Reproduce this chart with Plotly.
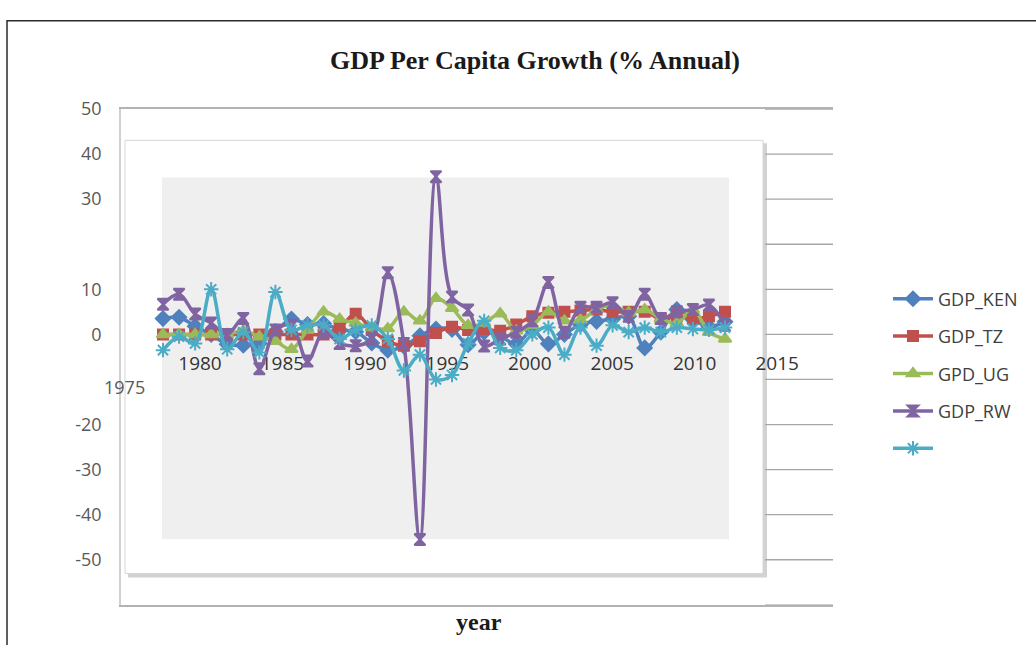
import plotly.graph_objects as go

# ---------------------------------------------------------------- data
years = list(range(1978, 2014))

gdp_ken = [3.5, 3.8, 1.8, 0.0, -2.2, -2.4, -2.0, 0.6, 3.4, 2.2, 2.4, 1.0,
           0.6, -1.9, -3.5, -2.6, -0.3, 1.2, 1.1, -2.3, 0.5, -0.4, -2.1, 0.9,
           -2.1, 0.0, 2.2, 2.9, 3.4, 4.0, -3.0, 0.5, 5.5, 3.3, 1.7, 2.8]

gdp_tz = [0.0, 0.0, 0.0, 0.0, 0.0, 0.0, 0.0, 0.0, 0.0, 0.0, 0.0, 1.5,
          4.6, 1.0, -1.5, -2.5, -1.5, 0.3, 1.7, 1.0, 1.2, 0.8, 2.2, 4.0,
          4.8, 5.0, 5.3, 5.5, 5.0, 5.0, 5.0, 3.5, 4.0, 3.5, 4.0, 5.0]

gdp_ug = [0.0, 0.0, 0.0, 0.0, 0.0, 0.8, -0.5, -1.5, -3.3, 1.0, 5.0, 3.4,
          2.5, 1.5, 1.3, 5.0, 3.0, 8.0, 5.8, 2.0, 2.5, 4.6, 0.8, 2.0,
          5.0, 3.0, 3.2, 5.5, 6.5, 4.8, 5.5, 3.5, 2.5, 5.5, 0.5, -1.0]

gdp_rw = [6.7, 8.9, 4.5, 2.5, 0.0, 3.5, -7.6, 1.0, 2.0, -5.9, 0.5, -2.0,
          -2.5, -1.0, 13.7, -2.0, -45.5, 35.0, 8.3, 5.4, -2.6, -1.0, 0.5, 3.0,
          11.5, 0.5, 6.0, 6.0, 7.0, 4.0, 8.9, 3.5, 5.0, 5.5, 6.5, 2.0]

gdp_s5 = [-3.5, -0.5, -2.0, 10.0, -3.3, 0.5, -4.0, 9.4, 1.0, 2.0, 2.0, -1.0,
          1.0, 2.0, -1.0, -8.0, -4.5, -10.0, -9.0, -2.0, 3.0, -3.0, -3.5, 0.0,
          1.5, -4.5, 1.5, -2.5, 2.0, 0.5, 1.5, 0.5, 1.5, 1.2, 1.0, 1.5]

series_values = [gdp_ken, gdp_tz, gdp_ug, gdp_rw, gdp_s5]
series_names = ["GDP_KEN", "GDP_TZ", "GPD_UG", "GDP_RW", ""]

y_tick_vals = [-60, -50, -40, -30, -20, -10, 0, 10, 20, 30, 40, 50]
y_tick_text = ["", "-50", "-40", "-30", "-20", "", "0", "10", "", "30", "40", "50"]

x_tick_vals = [1980, 1985, 1990, 1995, 2000, 2005, 2010, 2015]
x_tick_text = ["1980", "1985", "1990", "1995", "2000", "2005", "2010", "2015"]

# ---------------------------------------------------------------- styles
colors = ["#4F81BD", "#C0504D", "#9BBB59", "#8064A2", "#4BACC6"]
symbols = ["diamond", "square", "triangle-up", "hourglass", "asterisk-open"]
marker_sizes = [11, 10, 11, 11, 12]

W, H = 1036, 645


def px(x):
    return x / W


def py(y):
    return 1 - y / H


# outer plot area in pixels
L, R, T, B = 121, 833, 98, 604
PANEL_RIGHT = 763
YEAR_ROW = 344          # line along which the year labels hang

fig = go.Figure()

# subplot x/y only carries the row of year labels
fig.add_trace(go.Scatter(x=[], y=[], xaxis="x", yaxis="y",
                         showlegend=False, hoverinfo="skip"))

# the series themselves live on x2/y2, drawn above the label row
for vals, name, col, sym, ms in zip(series_values, series_names, colors,
                                    symbols, marker_sizes):
    fig.add_trace(go.Scatter(
        x=years, y=vals, name=name, legendgroup=name or "s5",
        mode="lines+markers",
        line=dict(color=col, width=3.5, shape="spline"),
        marker=dict(symbol=sym, size=ms, color=col,
                    line=dict(color=col, width=2)),
        xaxis="x2", yaxis="y2",
    ))

shapes = [
    # outer frame
    dict(type="rect", xref="paper", yref="paper",
         x0=px(7), x1=1.02, y0=-0.02, y1=py(8),
         line=dict(color="#2b2b2b", width=1.5), layer="below"),
    # drop shadow of the inner panel
    dict(type="rect", xref="paper", yref="paper",
         x0=px(128), x1=px(767), y0=py(576), y1=py(133),
         fillcolor="#d2d2d2", line=dict(width=0), layer="below"),
    # inner white panel
    dict(type="rect", xref="paper", yref="paper",
         x0=px(125), x1=px(PANEL_RIGHT), y0=py(572), y1=py(130),
         fillcolor="white", line=dict(color="#d6d6d6", width=1),
         layer="below"),
    # grey plotting area
    dict(type="rect", xref="paper", yref="paper",
         x0=px(162), x1=px(729), y0=py(537), y1=py(168),
         fillcolor="#efefef", line=dict(width=0), layer="below"),
]
# horizontal gridlines, visible only in the strip right of the inner panel
for v in y_tick_vals:
    shapes.append(dict(type="line", xref="paper", yref="y2",
                       x0=px(PANEL_RIGHT + 2), x1=px(R), y0=v, y1=v,
                       line=dict(color="#a6a6a6", width=1.3),
                       layer="below"))

fig.update_layout(
    width=W, height=H,
    margin=dict(l=0, r=0, t=0, b=0),
    paper_bgcolor="white", plot_bgcolor="rgba(0,0,0,0)",
    shapes=shapes,
    title=dict(text="<b>GDP Per Capita Growth (% Annual)</b>",
               x=px(535), y=py(60), xanchor="center", yanchor="middle",
               font=dict(family="Liberation Serif", size=26, color="#1a1a1a")),
    # year labels running through the middle of the chart
    xaxis=dict(domain=[px(L), px(R)], range=[1975.209, 2018.387],
               tickvals=x_tick_vals, ticktext=x_tick_text,
               showgrid=False, zeroline=False, showline=False, ticks="",
               tickfont=dict(family="Open Sans", size=19, color="#333333"),
               anchor="y"),
    yaxis=dict(domain=[py(YEAR_ROW), py(T)], range=[0, 1], visible=False,
               anchor="x"),
    # data axes; the mirrored x line gives the top and bottom frame edges
    xaxis2=dict(domain=[px(L), px(R)], range=[1975.385, 2019.725],
                showgrid=False, zeroline=False, showticklabels=False,
                ticks="", showline=True, mirror=True,
                linecolor="#b3b3b3", linewidth=1.5, anchor="y2"),
    yaxis2=dict(domain=[py(B), py(T)], range=[-60, 50],
                tickvals=y_tick_vals, ticktext=y_tick_text,
                showgrid=False, zeroline=False, showline=True,
                linecolor="#d0d0d0", linewidth=1.5, ticks="",
                ticklabelstandoff=14,
                tickfont=dict(family="Open Sans", size=18, color="#595959"),
                anchor="x2"),
    legend=dict(x=px(888), y=py(273), xanchor="left", yanchor="top",
                font=dict(family="Open Sans", size=18, color="#404040"),
                bgcolor="rgba(0,0,0,0)", tracegroupgap=11, itemwidth=40),
    annotations=[
        dict(text="<b>year</b>", xref="paper", yref="paper",
             x=px(479), y=py(622), showarrow=False,
             xanchor="center", yanchor="middle",
             font=dict(family="Liberation Serif", size=24, color="#1a1a1a")),
        dict(text="1975", xref="paper", yref="paper", x=px(124), y=py(382),
             showarrow=False, xanchor="center", yanchor="middle",
             font=dict(family="Open Sans", size=18, color="#595959")),
    ],
    showlegend=True,
)

fig.write_html("out.html")
